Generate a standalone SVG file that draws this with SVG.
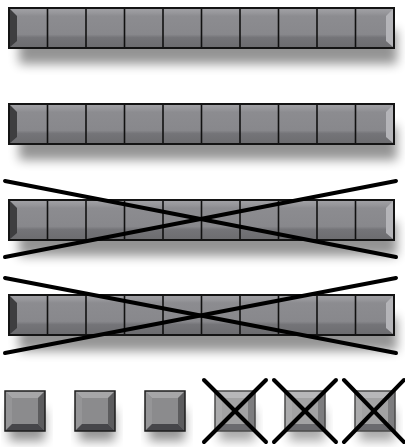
<svg xmlns="http://www.w3.org/2000/svg" xmlns:xlink="http://www.w3.org/1999/xlink" width="405" height="447" viewBox="0 0 405 447">
<style>
.div{stroke:#111;stroke-width:1.6}
.border{fill:none;stroke:#141414;stroke-width:2}
.sqborder{fill:none;stroke:#1e1e1e;stroke-width:1.5}
.cross{stroke:#000;stroke-width:4;stroke-linecap:round;fill:none}
.shadow{fill:#000;opacity:0.42;filter:url(#blur)}
</style>
<defs>
<filter id="blur" x="-20%" y="-100%" width="140%" height="300%"><feGaussianBlur stdDeviation="5.5"/></filter>
<linearGradient id="barGrad" x1="0" y1="0" x2="0" y2="1">
<stop offset="0" stop-color="#a2a2a6"/>
<stop offset="0.12" stop-color="#97979b"/>
<stop offset="0.2" stop-color="#8c8c90"/>
<stop offset="0.66" stop-color="#88888c"/>
<stop offset="0.74" stop-color="#747478"/>
<stop offset="1" stop-color="#6c6c6f"/>
</linearGradient>
<g id="bar">
<rect x="0" y="0" width="385" height="40" fill="url(#barGrad)"/>
<polygon points="1,1 8,8 8,33 1,39" fill="#3e3e40"/>
<polygon points="384,1 377,8 377,33 384,39" fill="#b4b4b8"/>
<g class="div">
<line x1="38.5" y1="0" x2="38.5" y2="40"/>
<line x1="77" y1="0" x2="77" y2="40"/>
<line x1="115.5" y1="0" x2="115.5" y2="40"/>
<line x1="154" y1="0" x2="154" y2="40"/>
<line x1="192.5" y1="0" x2="192.5" y2="40"/>
<line x1="231" y1="0" x2="231" y2="40"/>
<line x1="269.5" y1="0" x2="269.5" y2="40"/>
<line x1="308" y1="0" x2="308" y2="40"/>
<line x1="346.5" y1="0" x2="346.5" y2="40"/>
</g>
<rect class="border" x="0" y="0" width="385" height="40"/>
</g>
<g id="barShadow">
<rect class="shadow" x="10" y="22" width="378" height="34"/>
</g>
<g id="sq">
<rect x="0" y="0" width="40" height="40" fill="#8b8b8d"/>
<polygon points="0,0 40,0 33,7 7,7" fill="#a6a6a8"/>
<polygon points="0,0 7,7 7,33 0,40" fill="#959597"/>
<polygon points="40,0 40,40 33,33 33,7" fill="#5c5c5e"/>
<polygon points="0,40 40,40 33,33 7,33" fill="#46464a"/>
<rect class="sqborder" x="0" y="0" width="40" height="40"/>
</g>
<g id="sqShadow">
<rect class="shadow" x="4" y="18" width="36" height="32"/>
</g>
</defs>

<g id="bar1">
<use xlink:href="#barShadow" x="9" y="8"/>
<use xlink:href="#bar" x="9" y="8"/>
</g>
<g id="bar2">
<use xlink:href="#barShadow" x="9" y="104"/>
<use xlink:href="#bar" x="9" y="104"/>
</g>
<g id="bar3">
<use xlink:href="#barShadow" x="9" y="200"/>
<use xlink:href="#bar" x="9" y="200"/>
</g>
<g id="bar4">
<use xlink:href="#barShadow" x="9" y="295"/>
<use xlink:href="#bar" x="9" y="295"/>
</g>

<g id="square1">
<use xlink:href="#sqShadow" x="5" y="391"/>
<use xlink:href="#sq" x="5" y="391"/>
</g>
<g id="square2">
<use xlink:href="#sqShadow" x="75" y="391"/>
<use xlink:href="#sq" x="75" y="391"/>
</g>
<g id="square3">
<use xlink:href="#sqShadow" x="145" y="391"/>
<use xlink:href="#sq" x="145" y="391"/>
</g>
<g id="square4" opacity="0.8">
<use xlink:href="#sqShadow" x="215" y="391"/>
<use xlink:href="#sq" x="215" y="391"/>
</g>
<g id="square5" opacity="0.8">
<use xlink:href="#sqShadow" x="285" y="391"/>
<use xlink:href="#sq" x="285" y="391"/>
</g>
<g id="square6" opacity="0.8">
<use xlink:href="#sqShadow" x="355" y="391"/>
<use xlink:href="#sq" x="355" y="391"/>
</g>

<g id="connectors">
<line class="cross" x1="5" y1="181" x2="396" y2="257"/>
<line class="cross" x1="5" y1="257" x2="396" y2="181"/>
<line class="cross" x1="5" y1="278" x2="396" y2="353"/>
<line class="cross" x1="5" y1="353" x2="396" y2="278"/>
<line class="cross" x1="204" y1="380" x2="266" y2="442"/>
<line class="cross" x1="204" y1="442" x2="266" y2="380"/>
<line class="cross" x1="274" y1="380" x2="336" y2="442"/>
<line class="cross" x1="274" y1="442" x2="336" y2="380"/>
<line class="cross" x1="344" y1="380" x2="404" y2="442"/>
<line class="cross" x1="344" y1="442" x2="404" y2="380"/>
</g>
</svg>
